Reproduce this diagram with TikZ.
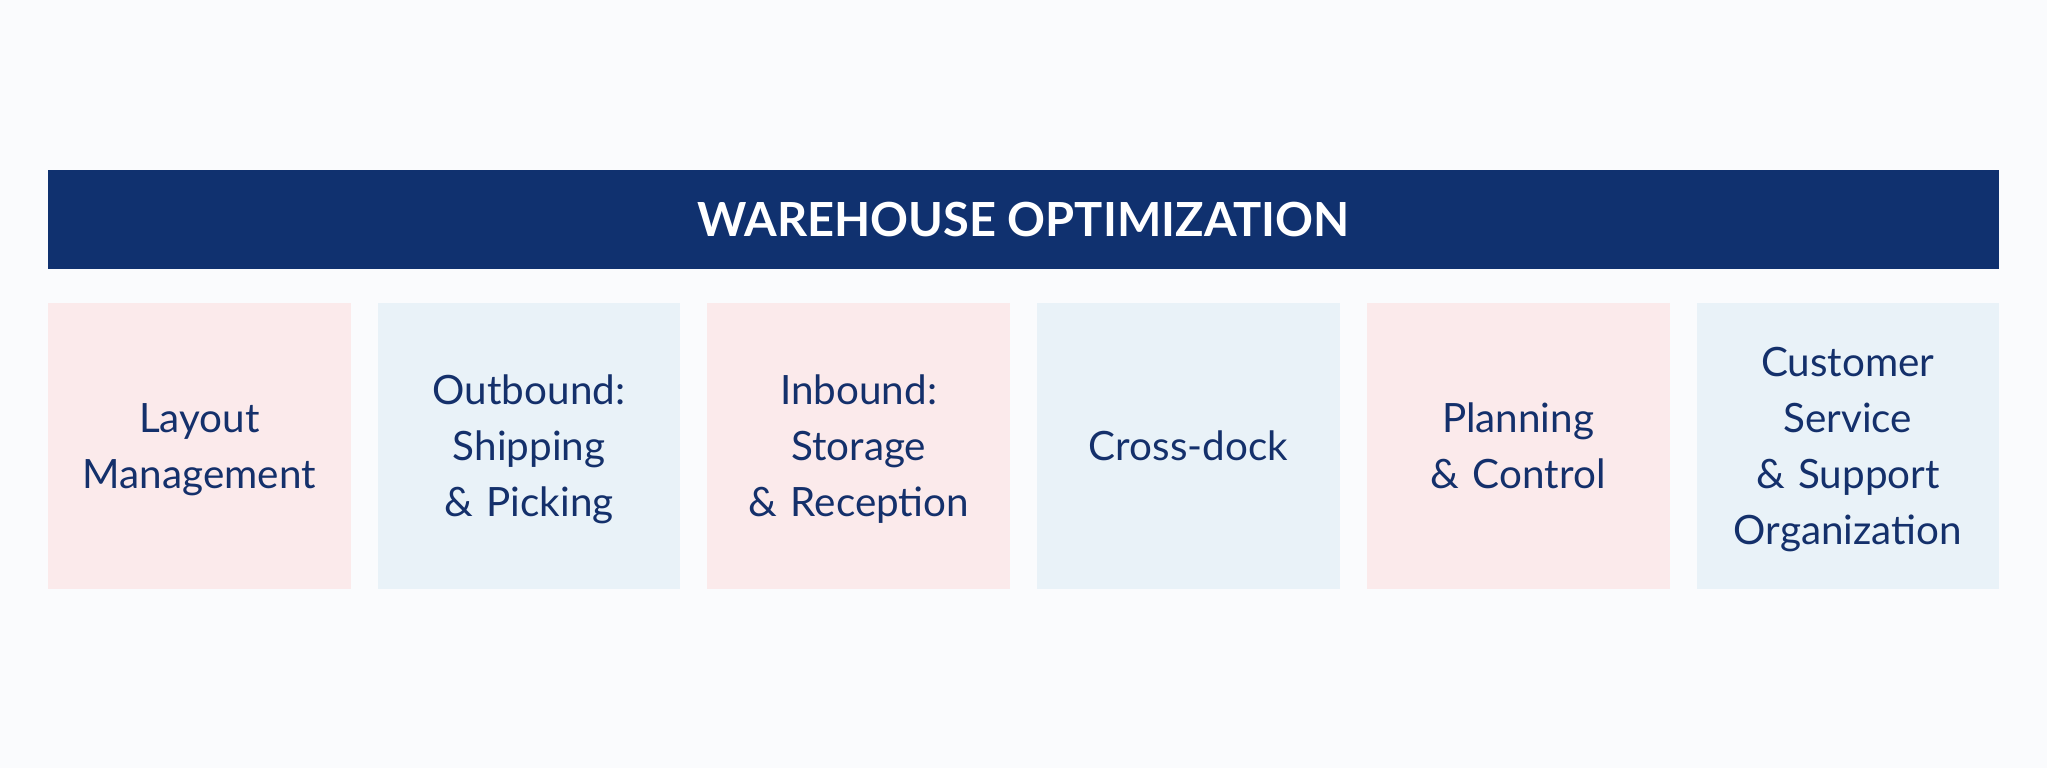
\documentclass[tikz,border=0pt]{standalone}
\usepackage{fontspec}
\setmainfont{Lato}
\definecolor{pagebg}{HTML}{FAFBFD}
\definecolor{navy}{HTML}{10316F}
\definecolor{inktext}{HTML}{14306B}
\definecolor{pinkfill}{HTML}{FBEAEB}
\definecolor{bluefill}{HTML}{E9F2F8}

\begin{document}
\begin{tikzpicture}[
    topic/.style={rectangle,inner sep=0pt,minimum width=151.35pt,minimum height=143pt,
      text width=145pt,align=center,text=inktext,
      execute at begin node={\rule{0pt}{22.9pt}},execute at end node={\strut},
      font=\fontsize{20.2}{27.9}\selectfont},
    pinkbox/.style={topic,fill=pinkfill},
    bluebox/.style={topic,fill=bluefill}
  ]
    \fill[pagebg] (0,0) rectangle (1023.5pt,384pt);
    \useasboundingbox (0,0) rectangle (1023.5pt,384pt);
    \node (title) at (511.75pt,274.25pt) [rectangle,fill=navy,inner sep=0pt,
      minimum width=975.5pt,minimum height=49.5pt,text=white,
      font=\fontsize{23.5}{28}\selectfont\bfseries] {WAREHOUSE OPTIMIZATION};
    \node (b1) at (99.675pt,161pt) [pinkbox] {Layout\\Management};
    \node (b2) at (264.525pt,161pt) [bluebox] {Outbound:\\Shipping\\\& Picking};
    \node (b3) at (429.375pt,161pt) [pinkbox] {Inbound:\\Storage\\\& Reception};
    \node (b4) at (594.225pt,161pt) [bluebox] {Cross-dock};
    \node (b5) at (759.075pt,161pt) [pinkbox] {Planning\\\& Control};
    \node (b6) at (923.925pt,161pt) [bluebox] {Customer\\Service\\\& Support\\Organization};
  \end{tikzpicture}
\end{document}
